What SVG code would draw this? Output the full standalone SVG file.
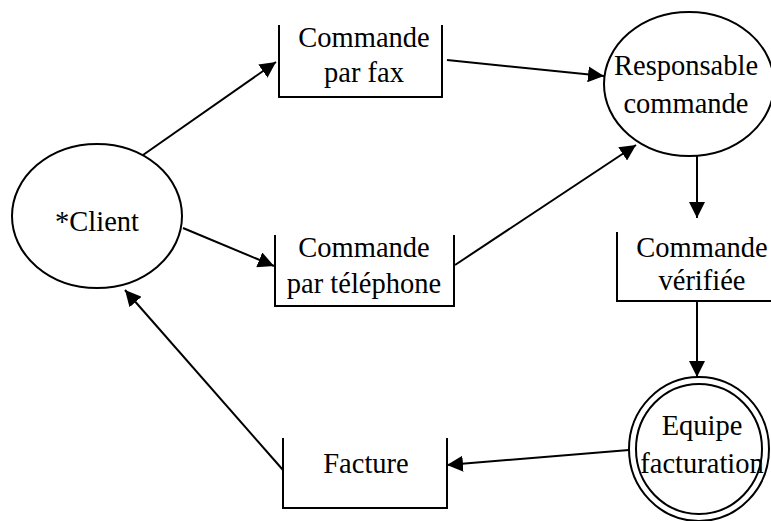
<svg xmlns="http://www.w3.org/2000/svg" width="771" height="521" viewBox="0 0 771 521">
  <defs>
    <marker id="arrow" markerUnits="userSpaceOnUse" markerWidth="18" markerHeight="16" refX="16" refY="8" orient="auto">
      <path d="M0,0 L16,8 L0,16 Z" fill="#000"/>
    </marker>
    <style>
      .shape { fill: none; stroke: #000; stroke-width: 2; }
      .flow { fill: none; stroke: #000; stroke-width: 2; marker-end: url(#arrow); }
      text { font-family: 'Liberation Serif', 'Times New Roman', serif; font-size: 28.5px; fill: #000; text-anchor: middle; }
    </style>
  </defs>
  <rect width="771" height="521" fill="#fff"/>

  <!-- data flows -->
  <g id="connectors">
    <line class="flow" x1="143" y1="155" x2="276" y2="62"/>
    <line class="flow" x1="183" y1="228" x2="274" y2="266"/>
    <line class="flow" x1="447" y1="60" x2="604" y2="76"/>
    <line class="flow" x1="455" y1="265" x2="636" y2="145"/>
    <line class="flow" x1="697" y1="156" x2="697" y2="218"/>
    <line class="flow" x1="697" y1="301" x2="697" y2="377"/>
    <line class="flow" x1="629" y1="450" x2="447" y2="465"/>
    <line class="flow" x1="283" y1="470" x2="125" y2="290"/>
  </g>

  <g id="client">
    <ellipse class="shape" cx="97" cy="216" rx="85" ry="72"/>
    <text x="97" y="231">*Client</text>
  </g>

  <!-- stores: open-topped boxes -->
  <g id="commande-fax">
    <path class="shape" d="M279,25 V97 H442 V25"/>
    <text x="364" y="47">Commande</text>
    <text x="364" y="82">par fax</text>
  </g>

  <g id="commande-telephone">
    <path class="shape" d="M275,235 V306 H454 V235"/>
    <text x="364" y="257">Commande</text>
    <text x="364" y="293">par téléphone</text>
  </g>

  <g id="responsable-commande">
    <ellipse class="shape" cx="689" cy="84" rx="85" ry="72"/>
    <text x="686" y="75">Responsable</text>
    <text x="686" y="113">commande</text>
  </g>

  <g id="commande-verifiee">
    <path class="shape" d="M617,232 V301 H775"/>
    <text x="702" y="257">Commande</text>
    <text x="702" y="290">vérifiée</text>
  </g>

  <g id="equipe-facturation">
    <ellipse class="shape" cx="699" cy="449" rx="70" ry="72"/>
    <ellipse class="shape" cx="699" cy="449" rx="63" ry="65"/>
    <text x="702" y="435">Equipe</text>
    <text x="702" y="473">facturation</text>
  </g>

  <g id="facture">
    <path class="shape" d="M283,438 V508 H447 V438"/>
    <text x="366" y="473">Facture</text>
  </g>
</svg>
